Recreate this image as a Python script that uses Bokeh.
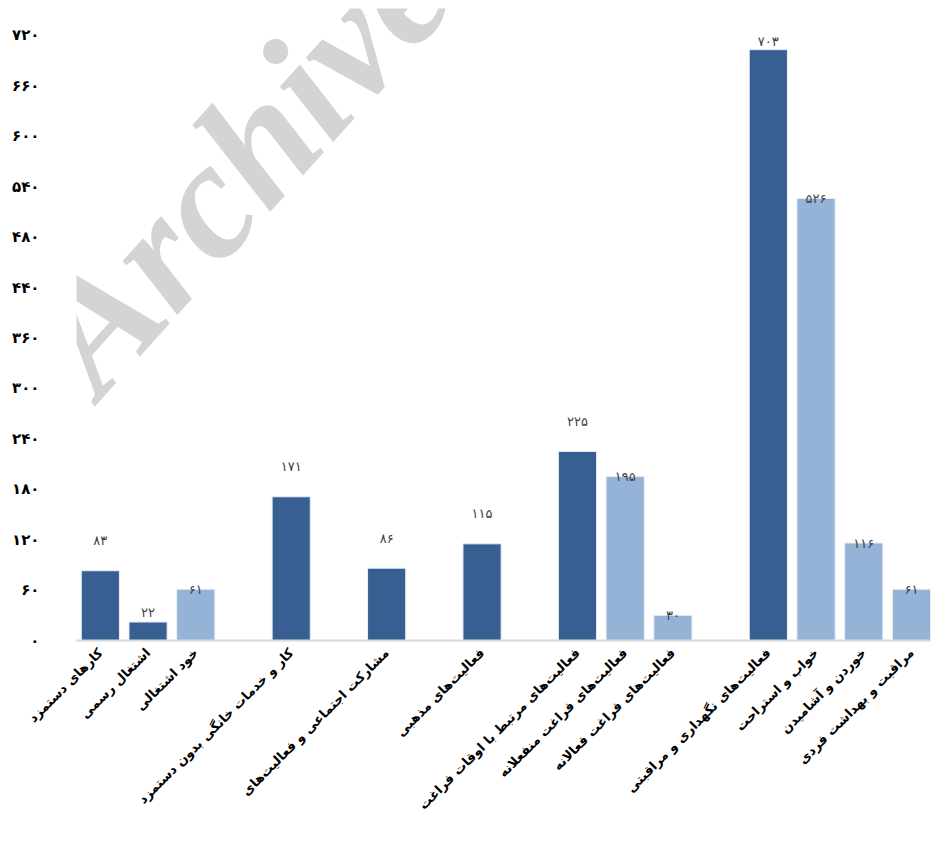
from bokeh.plotting import figure
from bokeh.models import Range1d, FixedTicker, Label, ColumnDataSource
from bokeh.core.properties import value
from bokeh.embed import file_html
from bokeh.resources import INLINE
import math

# ---- data ----
categories = [
    "کارهای دستمزد",
    "اشتغال رسمی",
    "خود اشتغالی",
    "کار و خدمات خانگی بدون دستمزد",
    "مشارکت اجتماعی و فعالیت\u200cهای",
    "فعالیت\u200cهای مذهبی",
    "فعالیت\u200cهای مرتبط با اوقات فراغت",
    "فعالیت\u200cهای فراغت منفعلانه",
    "فعالیت\u200cهای فراغت فعالانه",
    "فعالیت\u200cهای نگهداری و مراقبتی",
    "خواب و استراحت",
    "خوردن و آشامیدن",
    "مراقبت و بهداشت فردی",
]
values = [83, 22, 61, 171, 86, 115, 225, 195, 30, 703, 526, 116, 61]
groups = [1, 1, 1, 2, 3, 4, 5, 5, 5, 6, 6, 6, 6]
shade = ["dark", "dark", "light", "dark", "dark", "dark", "dark",
         "light", "light", "dark", "light", "light", "light"]
y_tick_values = [0, 60, 120, 180, 240, 300, 360, 420, 480, 540, 600, 660, 720]
y_tick_labels = ["۰", "۶۰", "۱۲۰", "۱۸۰", "۲۴۰", "۳۰۰", "۳۶۰", "۴۴۰",
                 "۴۸۰", "۵۴۰", "۶۰۰", "۶۶۰", "۷۲۰"]
watermark = "Archive"

# ---- styles ----
colors = {"dark": "#375f91", "light": "#95b3d7"}
label_lift_px = [30, 10, 0, 30, 30, 30, 30, 0, 0, 8, 0, 0, 0]

fa = str.maketrans("0123456789", "۰۱۲۳۴۵۶۷۸۹")
xs = [i + (g - 1) for i, g in enumerate(groups)]

src = ColumnDataSource(dict(
    x=xs,
    top=values,
    color=[colors[s] for s in shade],
    label=[str(v).translate(fa) for v in values],
    yoff=[-l for l in label_lift_px],
))

p = figure(width=931, height=825, output_backend="svg", toolbar_location=None,
           x_range=Range1d(-0.5, 17.42), y_range=Range1d(0, 752),
           min_border_left=76, min_border_right=0, min_border_top=8,
           min_border_bottom=185)
p.outline_line_color = None
p.grid.visible = False
p.background_fill_color = "white"

wm = Label(x=-18, y=278, x_units="screen", y_units="screen", text=watermark,
           angle=math.radians(48), text_font="Liberation Serif",
           text_font_style="bold italic", text_font_size="167px",
           text_color="#d4d4d7", text_align="left", text_baseline="alphabetic")
p.add_layout(wm)

p.vbar(x="x", top="top", width=0.8, bottom=0, source=src,
       fill_color="color", line_color="#e8eef6", line_width=1)

p.text(x="x", y="top", text="label", y_offset="yoff", source=src,
       text_align="center", text_baseline="middle",
       text_font=value("DejaVu Sans"), text_font_size="13px",
       text_color="#404040")

# x axis
p.xaxis.ticker = FixedTicker(ticks=xs)
p.xaxis.major_label_overrides = {x: c for x, c in zip(xs, categories)}
p.xaxis.major_label_orientation = math.pi / 4
p.xaxis.major_label_text_font = "DejaVu Sans"
p.xaxis.major_label_text_font_style = "bold"
p.xaxis.major_label_text_font_size = "13px"
p.xaxis.major_label_text_color = "black"
p.xaxis.major_label_standoff = 4
p.xaxis.axis_line_color = "#d9d9d9"
p.xaxis.axis_line_width = 2
p.xaxis.major_tick_line_color = None
p.xaxis.minor_tick_line_color = None

# y axis
p.yaxis.ticker = FixedTicker(ticks=y_tick_values)
p.yaxis.major_label_overrides = {v: l for v, l in zip(y_tick_values, y_tick_labels)}
p.yaxis.major_label_text_font = "DejaVu Sans"
p.yaxis.major_label_text_font_style = "bold"
p.yaxis.major_label_text_font_size = "15px"
p.yaxis.major_label_text_color = "black"
p.yaxis.major_label_text_align = "center"
p.yaxis.major_label_standoff = 31
p.yaxis.axis_line_color = None
p.yaxis.major_tick_line_color = None
p.yaxis.minor_tick_line_color = None

open("out.html", "w").write(file_html(p, INLINE))
